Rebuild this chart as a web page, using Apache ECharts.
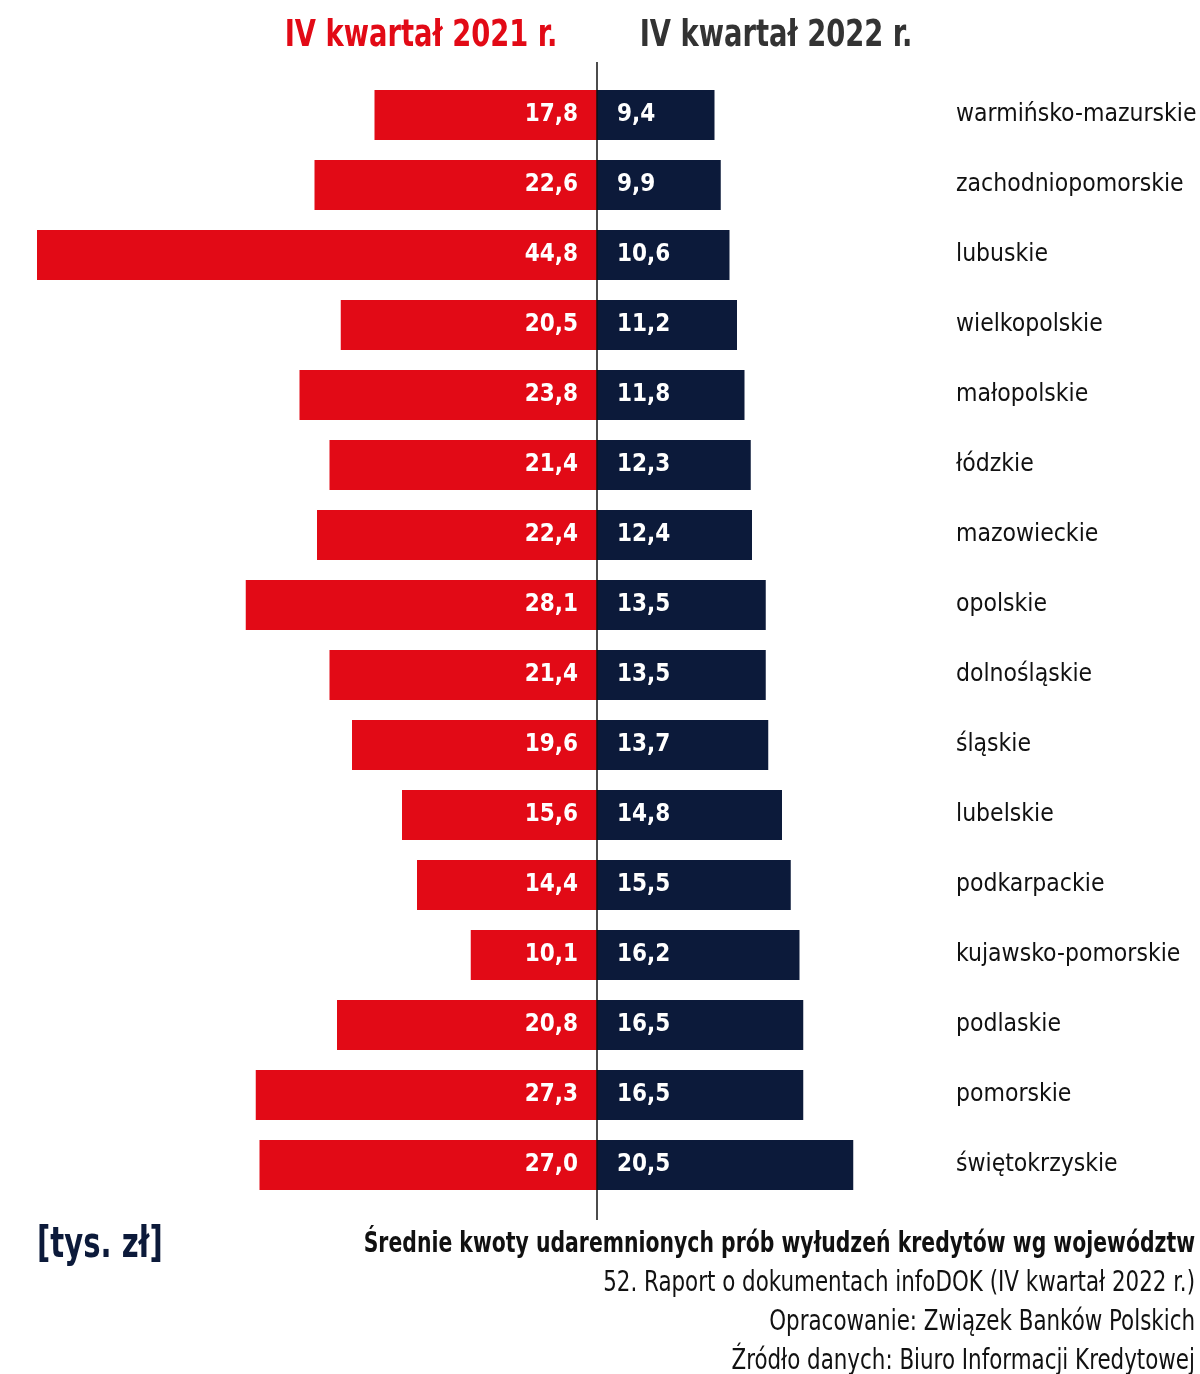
<!DOCTYPE html>
<html>
<head>
<meta charset="utf-8">
<script src="https://cdn.jsdelivr.net/npm/echarts@6/dist/echarts.min.js"></script>
<style>
  html, body { margin: 0; padding: 0; background: #fff; }
  #chart { width: 1200px; height: 1374px; }
</style>
</head>
<body>
<div id="chart"></div>
<script>
var regions = ['warmińsko-mazurskie', 'zachodniopomorskie', 'lubuskie', 'wielkopolskie', 'małopolskie', 'łódzkie', 'mazowieckie', 'opolskie', 'dolnośląskie', 'śląskie', 'lubelskie', 'podkarpackie', 'kujawsko-pomorskie', 'podlaskie', 'pomorskie', 'świętokrzyskie']
var q4_2021 = [17.8, 22.6, 44.8, 20.5, 23.8, 21.4, 22.4, 28.1, 21.4, 19.6, 15.6, 14.4, 10.1, 20.8, 27.3, 27.0]
var q4_2022 = [9.4, 9.9, 10.6, 11.2, 11.8, 12.3, 12.4, 13.5, 13.5, 13.7, 14.8, 15.5, 16.2, 16.5, 16.5, 20.5]

var RED = '#e20a16'
var NAVY = '#0c1a3a'
var FONT = '"DejaVu Sans Condensed", "Liberation Sans Narrow", sans-serif'

function fmt(v) {
  return Math.abs(v).toFixed(1).replace('.', ',')
}

// text squeezed horizontally to look like the condensed font of the original
function txt(id, text, x, y, font, color, align, sx) {
  return {
    type: 'text', id: id, x: x, y: y, scaleX: sx,
    style: { text: text, fill: color, font: font, align: align, verticalAlign: 'middle' }
  }
}

var myChart = echarts.init(document.getElementById('chart'))

var option = {
  animation: false,
  grid: {
    left: 37,
    right: 253,
    top: 80,
    height: 1120,
    outerBoundsMode: 'none'
  },
  xAxis: {
    type: 'value',
    min: -44.8,
    max: 28,
    show: false
  },
  yAxis: {
    type: 'category',
    data: regions,
    inverse: true,
    position: 'right',
    axisLine: { show: false },
    axisTick: { show: false },
    axisLabel: {
      margin: 9,
      align: 'left',
      color: '#111',
      fontFamily: FONT,
      fontSize: 24.5
    }
  },
  series: [
    {
      name: 'IV kwartał 2021 r.',
      type: 'bar',
      barWidth: 50,
      barGap: '-100%',
      data: q4_2021.map(function (v) { return -v }),
      itemStyle: { color: RED },
      label: {
        show: true,
        position: 'insideRight',
        distance: 19,
        color: '#fff',
        fontFamily: FONT,
        fontWeight: 'bold',
        fontSize: 24,
        formatter: function (p) { return fmt(p.value) }
      }
    },
    {
      name: 'IV kwartał 2022 r.',
      type: 'bar',
      barWidth: 50,
      barGap: '-100%',
      data: q4_2022,
      itemStyle: { color: NAVY },
      label: {
        show: true,
        position: 'insideLeft',
        distance: 20,
        color: '#fff',
        fontFamily: FONT,
        fontWeight: 'bold',
        fontSize: 24,
        formatter: function (p) { return fmt(p.value) }
      }
    }
  ],
  graphic: [
    txt('t1', 'IV kwartał 2021 r.', 421, 36, 'bold 38px ' + FONT, RED, 'center', 0.8),
    txt('t2', 'IV kwartał 2022 r.', 776, 36, 'bold 38px ' + FONT, '#333', 'center', 0.8),
    txt('unit', '[tys. zł]', 37, 1246, 'bold 42px ' + FONT, NAVY, 'left', 0.77),
    txt('f1', 'Średnie kwoty udaremnionych prób wyłudzeń kredytów wg województw', 1195, 1245, 'bold 28px ' + FONT, '#111', 'right', 0.81),
    txt('f2', '52. Raport o dokumentach infoDOK (IV kwartał 2022 r.)', 1195, 1284, '28px ' + FONT, '#111', 'right', 0.85),
    txt('f3', 'Opracowanie: Związek Banków Polskich', 1195, 1323, '28px ' + FONT, '#111', 'right', 0.85),
    txt('f4', 'Źródło danych: Biuro Informacji Kredytowej', 1195, 1362, '28px ' + FONT, '#111', 'right', 0.85)
  ]
}

myChart.setOption(option)

// centre divider, a bit longer than the bars
var x0 = myChart.convertToPixel({ gridIndex: 0 }, [0, 0])[0]
myChart.setOption({
  graphic: [{
    type: 'line',
    id: 'divider',
    shape: { x1: x0, y1: 62, x2: x0, y2: 1220 },
    style: { stroke: '#111', lineWidth: 1.5 },
    z: 10
  }]
})
</script>
</body>
</html>
